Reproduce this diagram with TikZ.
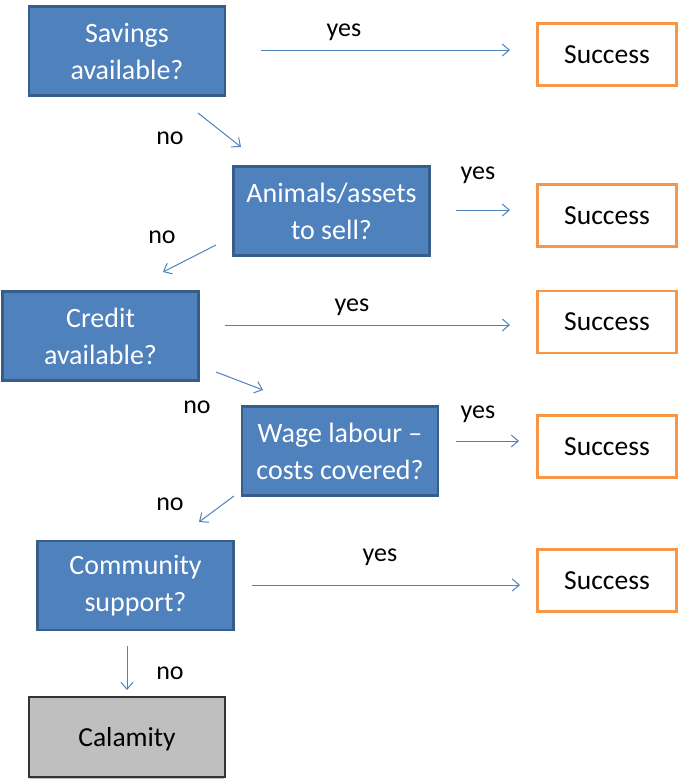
\documentclass[tikz,border=0pt]{standalone}
\usepackage{fontspec}
\setmainfont{Carlito}
\usetikzlibrary{arrows.meta}
\definecolor{qblue}{HTML}{4F81BD}
\definecolor{qblueline}{HTML}{385D8A}
\definecolor{qorange}{HTML}{F79646}
\definecolor{qgrey}{HTML}{BFBFBF}
\tikzset{
  question/.style={draw=qblueline, line width=2.6pt, fill=qblue, text=white,
    minimum width=196pt, minimum height=89pt, align=center, inner sep=0pt,
    font=\fontsize{28}{37}\selectfont},
  outcome/.style={draw=qorange, line width=2.6pt, fill=white, text=black,
    minimum width=139pt, minimum height=62pt, inner sep=0pt,
    font=\fontsize{27.5}{33}\selectfont},
  endbox/.style={draw=black!80, line width=1.3pt, fill=qgrey, text=black,
    minimum width=195pt, minimum height=80pt, inner sep=0pt,
    font=\fontsize{27.5}{33}\selectfont},
  link/.style={draw=qblue, line width=1pt, -{Straight Barb[length=7pt,width=12pt,line width=1pt]}},
  tag/.style={font=\fontsize{26}{30}\selectfont, text=black, inner sep=0pt},
}
\begin{document}
\begin{tikzpicture}[x=1pt, y=-1pt]
  \useasboundingbox (0,0) rectangle (678,779);

  % decision boxes
  \node[question] (savings)   at (127,51)  {Savings\\available?};
  \node[question] (animals)   at (331.5,211) {Animals/assets\\to sell?};
  \node[question] (credit)    at (100.5,336) {Credit\\available?};
  \node[question] (wage)      at (340,451) {Wage labour --\\costs covered?};
  \node[question] (community) at (135.5,585.5) {Community\\support?};

  % end box with a light band at its foot
  \node[endbox] (calamity) at (127,737) {};
  \shade[top color=qgrey, bottom color=qgrey!55]
    ([xshift=0.7pt,yshift=-0.7pt]calamity.south west) rectangle
    ([xshift=-0.7pt,yshift=-14pt]calamity.south east);
  \draw[black!80, line width=1.3pt] (calamity.south west) rectangle (calamity.north east);
  \node[font=\fontsize{27.5}{33}\selectfont] (calamitytext) at ([yshift=-2pt]calamity.center) {Calamity};

  % outcome boxes
  \node[outcome] (s1) at (607,54.5)  {Success};
  \node[outcome] (s2) at (607,215.5) {Success};
  \node[outcome] (s3) at (607,322)   {Success};
  \node[outcome] (s4) at (607,446.5) {Success};
  \node[outcome] (s5) at (607,580.5) {Success};

  % arrow end points
  \coordinate (y1a) at (261,50);  \coordinate (y1b) at (510,50);
  \coordinate (n1a) at (198,113); \coordinate (n1b) at (241,147);
  \coordinate (y2a) at (456,210); \coordinate (y2b) at (510,210);
  \coordinate (n2a) at (216,245); \coordinate (n2b) at (163,272);
  \coordinate (y3a) at (225,325); \coordinate (y3b) at (510,325);
  \coordinate (n3a) at (216,372); \coordinate (n3b) at (263,390);
  \coordinate (y4a) at (456,441); \coordinate (y4b) at (519,441);
  \coordinate (n4a) at (234,496); \coordinate (n4b) at (199,522);
  \coordinate (y5a) at (252,585); \coordinate (y5b) at (520,585);
  \coordinate (n5a) at (127,646); \coordinate (n5b) at (127,690);

  % connectors
  \draw[link] (y1a) -- (y1b);
  \draw[link] (n1a) -- (n1b);
  \draw[link] (y2a) -- (y2b);
  \draw[link] (n2a) -- (n2b);
  \draw[link] (y3a) -- (y3b);
  \draw[link] (n3a) -- (n3b);
  \draw[link] (y4a) -- (y4b);
  \draw[link] (n4a) -- (n4b);
  \draw[link] (y5a) -- (y5b);
  \draw[link] (n5a) -- (n5b);

  % labels
  \node[tag] (ly1) at (344,32)  {yes};
  \node[tag] (ln1) at (170,138) {no};
  \node[tag] (ly2) at (478,175) {yes};
  \node[tag] (ln2) at (162,237) {no};
  \node[tag] (ly3) at (352,307) {yes};
  \node[tag] (ln3) at (197,407) {no};
  \node[tag] (ly4) at (478,414) {yes};
  \node[tag] (ln4) at (170,504) {no};
  \node[tag] (ly5) at (380,557) {yes};
  \node[tag] (ln5) at (170,673) {no};
\end{tikzpicture}
\end{document}
